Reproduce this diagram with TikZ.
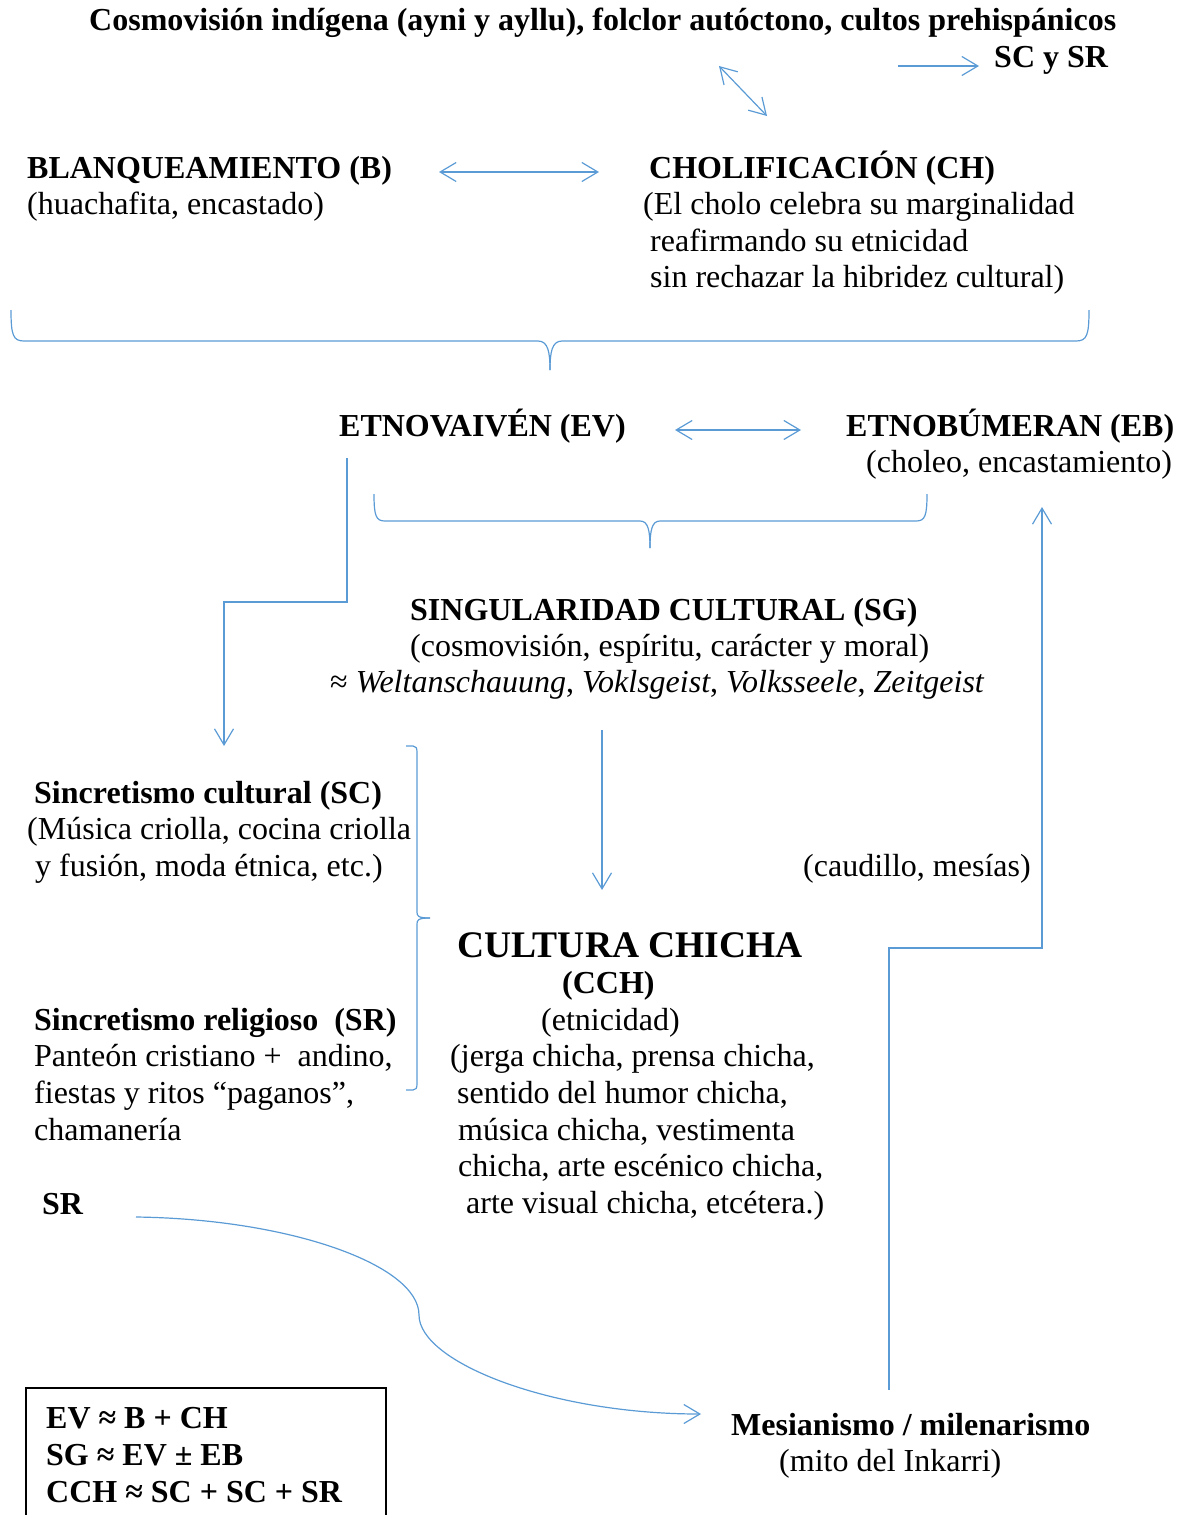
\documentclass[tikz,border=0pt]{standalone}
\usepackage{fontspec}
\setmainfont{Liberation Serif}
\usetikzlibrary{arrows.meta}
\definecolor{lb}{HTML}{5B9BD5}
\newcommand\fsz{\fontsize{32}{37}\selectfont}
\newcommand\fbig{\fontsize{37.5}{42}\selectfont}
\tikzset{
 t/.style={anchor=base west, inner sep=0pt, font=\fsz},
 tb/.style={anchor=base west, inner sep=0pt, font=\fsz\bfseries},
 ln/.style={draw=lb, line width=1.2pt},
 ar/.style={ln, -{Straight Barb[length=16pt,width=19pt]}},
 dar/.style={ln, {Straight Barb[length=16pt,width=19pt]}-{Straight Barb[length=16pt,width=19pt]}},
 boxst/.style={draw=black, line width=2pt},
}
\begin{document}
\begin{tikzpicture}[x=1pt,y=-1pt]
\useasboundingbox (0,0) rectangle (1184,1515);
% --- texts ---
\node[tb] (cosmo) at (89,30) {Cosmovisión indígena (ayni y ayllu), folclor autóctono, cultos prehispánicos};
\node[tb] (scsr) at (994,67) {SC y SR};
\node[tb] (blanq) at (27,178) {BLANQUEAMIENTO (B)};
\node[t] (blanq2) at (27,214) {(huachafita, encastado)};
\node[tb] (cholif) at (649,178) {CHOLIFICACIÓN (CH)};
\node[t] (cholif2) at (643,214) {(El cholo celebra su marginalidad};
\node[t] (cholif3) at (650,251) {reafirmando su etnicidad};
\node[t] (cholif4) at (650,287) {sin rechazar la hibridez cultural)};
\node[tb] (ev) at (339,436) {ETNOVAIVÉN (EV)};
\node[tb] (eb) at (846,436) {ETNOBÚMERAN (EB)};
\node[t] (eb2) at (866,472) {(choleo, encastamiento)};
\node[tb] (sg) at (410,620) {SINGULARIDAD CULTURAL (SG)};
\node[t] (sg2) at (410,656) {(cosmovisión, espíritu, carácter y moral)};
\node[t] (sg3) at (330,692) {≈ \textit{Weltanschauung}, \textit{Voklsgeist}, \textit{Volksseele}, \textit{Zeitgeist}};
\node[tb] (sc) at (34,803) {Sincretismo cultural (SC)};
\node[t] (sc2) at (27,839) {(Música criolla, cocina criolla};
\node[t] (sc3) at (35,876) {y fusión, moda étnica, etc.)};
\node[t] (caud) at (803,876) {(caudillo, mesías)};
\node[anchor=base west, inner sep=0pt, font=\fbig\bfseries] (cch) at (457,957) {CULTURA CHICHA};
\node[tb] (cch2) at (562,993) {(CCH)};
\node[t] (cch3) at (541,1030) {(etnicidad)};
\node[t] (cch4) at (450,1066) {(jerga chicha, prensa chicha,};
\node[t] (cch5) at (457,1103) {sentido del humor chicha,};
\node[t] (cch6) at (458,1140) {música chicha, vestimenta};
\node[t] (cch7) at (458,1176) {chicha, arte escénico chicha,};
\node[t] (cch8) at (466,1213) {arte visual chicha, etcétera.)};
\node[tb] (sr) at (34,1030) {Sincretismo religioso\ \ (SR)};
\node[t] (sr2) at (34,1066) {Panteón cristiano +\ \ andino,};
\node[t] (sr3) at (34,1103) {fiestas y ritos “paganos”,};
\node[t] (sr4) at (34,1140) {chamanería};
\node[tb] (sr5) at (42,1214) {SR};
\node[tb] (mes) at (731,1435) {Mesianismo / milenarismo};
\node[t] (mes2) at (779,1471) {(mito del Inkarri)};
% formula box
\draw[boxst] (26,1530) -- (26,1388) -- (386,1388) -- (386,1530);
\node[tb] (f1) at (46,1428) {EV ≈ B + CH};
\node[tb] (f2) at (46,1465) {SG ≈ EV ± EB};
\node[tb] (f3) at (46,1502) {CCH ≈ SC + SC + SR};
% --- connector coordinates ---
\coordinate (a1s) at (898,66); \coordinate (a1e) at (979,66);
\coordinate (a2s) at (719,66); \coordinate (a2e) at (767,116);
\coordinate (a3s) at (439,172); \coordinate (a3e) at (599,172);
\coordinate (a4s) at (675,430); \coordinate (a4e) at (801,430);
\coordinate (evd) at (347,458); \coordinate (evc1) at (347,602); \coordinate (evc2) at (224,602); \coordinate (sctop) at (224,746);
\coordinate (sgd) at (602,730); \coordinate (cchtop) at (602,890);
\coordinate (mesup) at (889,1390); \coordinate (mc1) at (889,948); \coordinate (mc2) at (1042,948); \coordinate (ebd) at (1042,507);
\coordinate (srr) at (136,1217); \coordinate (mid) at (419,1315); \coordinate (mesl) at (701,1414);
% --- connectors ---
\draw[ar] (a1s) -- (a1e);
\draw[dar] (a2s) -- (a2e);
\draw[dar] (a3s) -- (a3e);
\draw[dar] (a4s) -- (a4e);
\draw[ar] (evd) -- (evc1) -- (evc2) -- (sctop);
\draw[ar] (sgd) -- (cchtop);
\draw[ar] (mesup) -- (mc1) -- (mc2) -- (ebd);
\draw[ar] (srr) .. controls (290,1219) and (419,1265) .. (mid) .. controls (419,1362) and (550,1414) .. (mesl);
% --- braces ---
\draw[ln] (11,310) .. controls (11,335) and (13,341) .. (24,341) -- (538,341) .. controls (548,341) and (550,352) .. (550,370);
\draw[ln] (1089,310) .. controls (1089,335) and (1087,341) .. (1076,341) -- (562,341) .. controls (552,341) and (550,352) .. (550,370);
\draw[ln] (374,494) .. controls (374,516) and (376,521) .. (385,521) -- (640,521) .. controls (648,521) and (650,530) .. (650,548);
\draw[ln] (927,494) .. controls (927,516) and (925,521) .. (916,521) -- (660,521) .. controls (652,521) and (650,530) .. (650,548);
\draw[ln] (406,746) -- (413,746) .. controls (416,746) and (417,748) .. (417,752) -- (417,912) .. controls (417,916) and (418,918) .. (430,918);
\draw[ln] (406,1090) -- (413,1090) .. controls (416,1090) and (417,1088) .. (417,1084) -- (417,924) .. controls (417,920) and (418,918) .. (430,918);
\end{tikzpicture}
\end{document}
